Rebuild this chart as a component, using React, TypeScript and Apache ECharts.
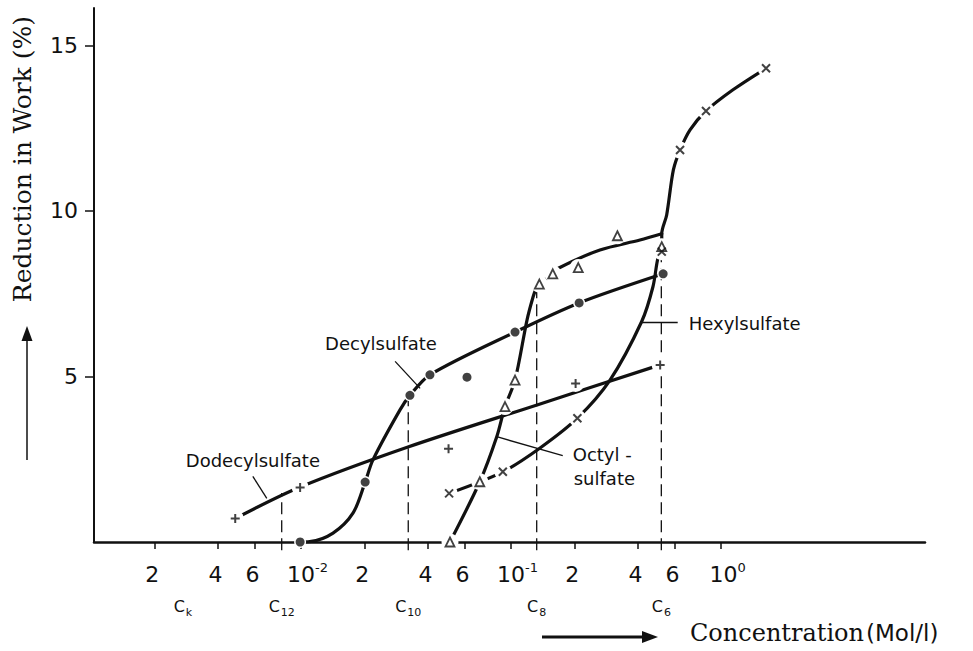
import { useEffect, useRef } from "react";
import * as echarts from "echarts";

// Concentration axis (mol/l): tick positions and their printed labels
const xTickValues = [0.002, 0.004, 0.006, 0.01, 0.02, 0.04, 0.06, 0.1, 0.2, 0.4, 0.6, 1];
const xTickBase = ["2", "4", "6", "10", "2", "4", "6", "10", "2", "4", "6", "10"];
const xTickExp = ["", "", "", "-2", "", "", "", "-1", "", "", "", "0"];

// Reduction in work (%) ticks
const yTickValues = [5, 10, 15];

// Critical micelle concentrations
const cmcSubs = ["k", "12", "10", "8", "6"];
const cmcValues = [0.00274, 0.00809, 0.0324, 0.1325, 0.5196];
// Dashed drop lines: [concentration, height where the line stops]
const cmcDrops = [
  [0.00809, 1.48],
  [0.0324, 4.43],
  [0.1325, 7.6],
  [0.5196, 8.8],
];

// Dodecylsulfate: measured points (+) and drawn curve
const dodecylPoints = [
  [0.00486, 0.71],
  [0.0099, 1.65],
  [0.0504, 2.82],
  [0.203, 4.79],
  [0.513, 5.35],
];
const dodecylCurve = [
  [0.00486, 0.71],
  [0.0099, 1.66],
  [0.0323, 2.87],
  [0.133, 4.14],
  [0.513, 5.35],
];

// Decylsulfate: measured points (•) and drawn curve
const decylPoints = [
  [0.0099, 0],
  [0.0202, 1.81],
  [0.033, 4.43],
  [0.0411, 5.05],
  [0.0617, 4.98],
  [0.1045, 6.34],
  [0.211, 7.22],
  [0.53, 8.1],
];
const decylCurve = [
  [0.0099, 0],
  [0.011, 0.01],
  [0.0142, 0.27],
  [0.0177, 0.88],
  [0.0202, 1.81],
  [0.022, 2.48],
  [0.0296, 3.99],
  [0.033, 4.43],
  [0.0411, 5.05],
  [0.1045, 6.34],
  [0.211, 7.22],
  [0.53, 8.1],
];

// Octylsulfate: measured points (Δ) and drawn curve
const octylPoints = [
  [0.0512, 0],
  [0.071, 1.82],
  [0.0936, 4.09],
  [0.1045, 4.89],
  [0.1364, 7.79],
  [0.158, 8.1],
  [0.209, 8.29],
  [0.321, 9.25],
  [0.522, 8.92],
];
const octylCurve = [
  [0.0512, 0],
  [0.071, 1.82],
  [0.0855, 3.18],
  [0.0936, 4.09],
  [0.1045, 4.89],
  [0.1192, 6.71],
  [0.1273, 7.4],
  [0.1315, 7.64],
  [0.1364, 7.79],
  [0.158, 8.1],
  [0.168, 8.27],
  [0.265, 8.82],
  [0.411, 9.12],
  [0.522, 9.31],
];

// Hexylsulfate: measured points (x) and drawn curve
const hexylPoints = [
  [0.0507, 1.47],
  [0.0914, 2.12],
  [0.207, 3.74],
  [0.522, 8.77],
  [0.638, 11.84],
  [0.848, 13.02],
  [1.638, 14.31],
];
const hexylCurve = [
  [0.0507, 1.47],
  [0.0914, 2.12],
  [0.1375, 2.84],
  [0.207, 3.74],
  [0.296, 4.89],
  [0.419, 6.66],
  [0.474, 7.71],
  [0.501, 8.58],
  [0.522, 8.77],
  [0.522, 9.31],
  [0.551, 9.88],
  [0.593, 11.24],
  [0.638, 11.84],
  [0.712, 12.45],
  [0.848, 13.02],
  [1.14, 13.66],
  [1.638, 14.31],
];

const INK = "#111";
const SANS = '"DejaVu Sans", "Noto Sans", sans-serif';
const SERIF = '"DejaVu Serif", "Liberation Serif", serif';

const markers: Record<string, any> = {
  plus: {
    symbol: "path://M5,0L5,10M0,5L10,5",
    size: 9,
    itemStyle: { color: "none", borderColor: INK, borderWidth: 2 },
  },
  dot: { symbol: "circle", size: 9, itemStyle: { color: INK } },
  tri: {
    symbol: "triangle",
    size: 9,
    itemStyle: { color: "#fff", borderColor: INK, borderWidth: 1.8 },
  },
  cross: {
    symbol: "path://M0,0L10,10M10,0L0,10",
    size: 8,
    itemStyle: { color: "none", borderColor: INK, borderWidth: 2 },
  },
};

function tickIndex(list: number[], v: number) {
  let best = 0;
  for (let i = 1; i < list.length; i++) {
    if (Math.abs(Math.log(list[i] / v)) < Math.abs(Math.log(list[best] / v))) best = i;
  }
  return best;
}

function curve(name: string, data: number[][]) {
  return {
    type: "line",
    name,
    data,
    showSymbol: false,
    smooth: 0.3,
    lineStyle: { color: INK, width: 3.2, cap: "round" },
    z: 2,
    silent: true,
  };
}

// white discs that open small gaps in the curves around each plotted point
function halo(data: number[][], size: number) {
  return {
    type: "scatter",
    data,
    symbol: "circle",
    symbolSize: size,
    itemStyle: { color: "#fff", opacity: 1 },
    z: 3,
    silent: true,
  };
}

function marks(data: number[][], m: any) {
  return {
    type: "scatter",
    data,
    symbol: m.symbol,
    symbolSize: m.size,
    itemStyle: m.itemStyle,
    z: 4,
    silent: true,
  };
}

export default function App() {
  const ref = useRef<HTMLDivElement>(null);

  useEffect(() => {
    const el = ref.current;
    if (!el) return;
    const chart = echarts.init(el, null, { renderer: "svg" });

    const xMin = 0.001033;
    const xMax = 9.36;

    const option: any = {
      animation: false,
      backgroundColor: "#fff",
      grid: { left: 94, right: 48, top: 8, bottom: 109, outerBoundsMode: "none" },
      xAxis: [
        {
          type: "log",
          logBase: 10,
          min: xMin,
          max: xMax,
          axisLine: { show: true, lineStyle: { color: INK, width: 2.5 } },
          axisTick: {
            show: true,
            customValues: xTickValues,
            length: 7,
            lineStyle: { color: INK, width: 1.5 },
          },
          minorTick: { show: false },
          splitLine: { show: false },
          axisLabel: {
            customValues: xTickValues,
            margin: 19,
            color: INK,
            formatter: (v: number) => {
              const i = tickIndex(xTickValues, v);
              return xTickExp[i]
                ? `{m|${xTickBase[i]}}{s|${xTickExp[i]}}`
                : `{n|${xTickBase[i]}}{s| }`;
            },
            rich: {
              n: { fontSize: 22, fontFamily: SANS, color: INK },
              m: { fontSize: 22, fontFamily: SANS, color: INK, padding: [0, 0, 0, 13] },
              s: { fontSize: 13, fontFamily: SANS, color: INK, padding: [0, 0, 14, 0] },
            },
          },
        },
        {
          type: "log",
          logBase: 10,
          min: xMin,
          max: xMax,
          position: "bottom",
          offset: 48,
          axisLine: { show: false },
          axisTick: { show: false },
          minorTick: { show: false },
          splitLine: { show: false },
          axisLabel: {
            customValues: cmcValues,
            margin: 8,
            color: INK,
            formatter: (v: number) => `{c|C}{k|${cmcSubs[tickIndex(cmcValues, v)]}}`,
            rich: {
              c: { fontSize: 16, fontFamily: SANS, color: INK, verticalAlign: "top" },
              k: { fontSize: 11, fontFamily: SANS, color: INK, padding: [9, 0, 0, 1] },
            },
          },
        },
      ],
      yAxis: {
        type: "value",
        min: 0,
        max: 16.13,
        axisLine: { show: true, lineStyle: { color: INK, width: 2 } },
        axisTick: {
          show: true,
          customValues: yTickValues,
          length: 9,
          lineStyle: { color: INK, width: 1.5 },
        },
        splitLine: { show: false },
        axisLabel: {
          customValues: yTickValues,
          margin: 16,
          color: INK,
          fontSize: 22,
          fontFamily: SANS,
        },
      },
      series: [
        ...cmcDrops.map(([c, top]) => ({
          type: "line",
          data: [
            [c, -0.25],
            [c, top],
          ],
          showSymbol: false,
          clip: false,
          lineStyle: { color: INK, width: 1.3, type: [12, 6] },
          z: 1,
          silent: true,
        })),
        curve("Dodecylsulfate", dodecylCurve),
        curve("Decylsulfate", decylCurve),
        curve("Octylsulfate", octylCurve),
        curve("Hexylsulfate", hexylCurve),
        halo([...dodecylPoints, ...octylPoints, ...hexylPoints], 17),
        halo(decylPoints, 12),
        marks(dodecylPoints, markers.plus),
        marks(decylPoints, markers.dot),
        marks(octylPoints, markers.tri),
        marks(hexylPoints, markers.cross),
      ],
    };

    chart.setOption(option);

    const px = (c: number, v: number) =>
      chart.convertToPixel({ xAxisIndex: 0, yAxisIndex: 0 }, [c, v]) as number[];

    const textStyle = (text: string, x: number, y: number, extra: any = {}) => ({
      text,
      x,
      y,
      fill: INK,
      fontSize: 18,
      fontFamily: SANS,
      align: "left",
      verticalAlign: "middle",
      textAlign: "left",
      textVerticalAlign: "middle",
      ...extra,
    });

    // curve labels with pointer lines, anchored to a point on each curve
    const notes = [
      { anchor: [0.00687, 1.32], tip: [-14, -22], lines: [["Dodecylsulfate", -81, -38]] },
      { anchor: [0.0369, 4.64], tip: [-25, -27], lines: [["Decylsulfate", -95, -45]] },
      { anchor: [0.419, 6.63], tip: [36, 0], lines: [["Hexylsulfate", 47, 1]] },
      {
        anchor: [0.0855, 3.18],
        tip: [66, 19],
        lines: [
          ["Octyl -", 76, 18],
          ["sulfate", 77, 42],
        ],
      },
    ];

    const graphics: any[] = [];
    notes.forEach((n) => {
      const [ax, ay] = px(n.anchor[0], n.anchor[1]);
      graphics.push({
        type: "line",
        shape: { x1: ax, y1: ay, x2: ax + n.tip[0], y2: ay + n.tip[1] },
        style: { stroke: INK, lineWidth: 1.3 },
        silent: true,
      });
      n.lines.forEach((l: any) => {
        graphics.push({
          type: "text",
          style: textStyle(l[0], ax + l[1], ay + l[2]),
          silent: true,
        });
      });
    });

    // axis titles and direction arrows
    graphics.push(
      {
        type: "text",
        x: 22,
        y: 159,
        rotation: Math.PI / 2,
        style: {
          text: "Reduction in Work (%)",
          fill: INK,
          fontSize: 25,
          fontFamily: SERIF,
          align: "center",
          verticalAlign: "middle",
          textAlign: "center",
          textVerticalAlign: "middle",
        },
        silent: true,
      },
      {
        type: "line",
        shape: { x1: 27, y1: 460, x2: 27, y2: 338 },
        style: { stroke: INK, lineWidth: 1.5 },
        silent: true,
      },
      {
        type: "polygon",
        shape: {
          points: [
            [27, 326],
            [21.5, 341],
            [32.5, 341],
          ],
        },
        style: { fill: INK },
        silent: true,
      },
      {
        type: "line",
        shape: { x1: 542, y1: 637, x2: 645, y2: 637 },
        style: { stroke: INK, lineWidth: 3 },
        silent: true,
      },
      {
        type: "polygon",
        shape: {
          points: [
            [658, 637],
            [642, 631],
            [642, 643],
          ],
        },
        style: { fill: INK },
        silent: true,
      },
      {
        type: "text",
        x: 690,
        y: 633,
        style: {
          text: "{a|Concentration}{b|(Mol/l)}",
          fill: INK,
          align: "left",
          verticalAlign: "middle",
          textAlign: "left",
          textVerticalAlign: "middle",
          rich: {
            a: { fontSize: 24, fontFamily: SERIF, fill: INK, color: INK },
            b: { fontSize: 23, fontFamily: SANS, fill: INK, color: INK, padding: [0, 0, 0, 2] },
          },
        },
        silent: true,
      }
    );

    chart.setOption({ graphic: graphics });

    return () => chart.dispose();
  }, []);

  return (
    <div
      ref={ref}
      style={{ position: "fixed", left: 0, top: 0, width: 973, height: 651, background: "#fff" }}
    />
  );
}
